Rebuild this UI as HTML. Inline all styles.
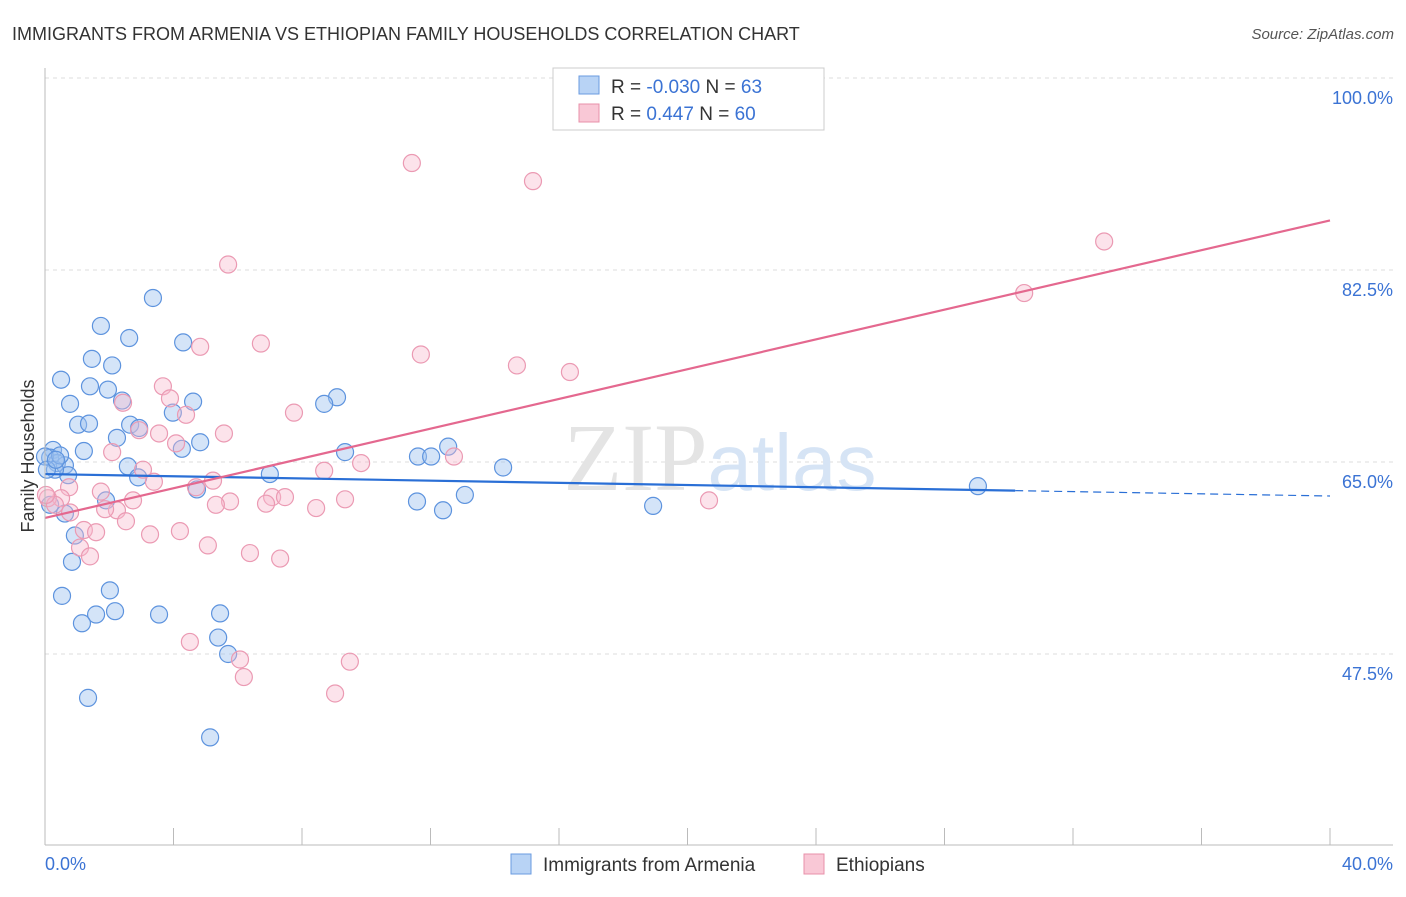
<!DOCTYPE html>
<html><head><meta charset="utf-8"><style>
body{margin:0;background:#fff;font-family:"Liberation Sans",sans-serif}
</style></head><body>
<svg width="1406" height="892" viewBox="0 0 1406 892" xmlns="http://www.w3.org/2000/svg" font-family="Liberation Sans, sans-serif">
<text x="12" y="40" font-size="18" fill="#333">IMMIGRANTS FROM ARMENIA VS ETHIOPIAN FAMILY HOUSEHOLDS CORRELATION CHART</text>
<text x="1394" y="39" font-size="15" fill="#555" font-style="italic" text-anchor="end">Source: ZipAtlas.com</text>
<g id="grid"></g>
<text x="720" y="490" font-size="96" fill="#e4e4e4" text-anchor="middle" font-family="Liberation Serif, serif">ZIP<tspan fill="#d6e4f5" font-family="Liberation Sans, sans-serif" font-size="80">atlas</tspan></text>
<g id="pts"></g>
<g id="trend"></g>
<line x1="45" y1="68" x2="45" y2="845" stroke="#bbb"/>
<line x1="45" y1="845" x2="1393" y2="845" stroke="#bbb"/>
<g id="xt"></g>
<text x="45" y="870" font-size="18" fill="#3b73d4">0.0%</text>
<text x="1393" y="870" font-size="18" fill="#3b73d4" text-anchor="end">40.0%</text>
<text x="34" y="456" font-size="18" fill="#333" text-anchor="middle" transform="rotate(-90 34 456)">Family Households</text>
<g>
<rect x="553" y="68" width="271" height="62" fill="#fff" stroke="#ccc"/>
<rect x="579" y="76" width="20" height="18" fill="#b8d3f5" stroke="#6a9be0"/>
<rect x="579" y="104" width="20" height="18" fill="#f9c8d6" stroke="#e890aa"/>
<text x="611" y="93" font-size="19" fill="#333">R = <tspan fill="#3b73d4">-0.030</tspan>   N = <tspan fill="#3b73d4">63</tspan></text>
<text x="611" y="120" font-size="19" fill="#333">R = <tspan fill="#3b73d4">  0.447</tspan>   N = <tspan fill="#3b73d4">60</tspan></text>
</g>
<g>
<rect x="511" y="854" width="20" height="20" fill="#b8d3f5" stroke="#6a9be0"/>
<text x="543" y="871" font-size="19" fill="#333">Immigrants from Armenia</text>
<rect x="804" y="854" width="20" height="20" fill="#f9c8d6" stroke="#e890aa"/>
<text x="836" y="871" font-size="19" fill="#333">Ethiopians</text>
</g>
</svg>
<script>
const yTicks=[100,82.5,65,47.5];
const yTickLabels=["100.0%","82.5%","65.0%","47.5%"];
const blueX=[3.36,1.74,2.62,4.30,1.46,2.09,0.50,1.40,1.96,0.78,4.61,2.40,9.09,8.69,3.98,1.03,1.37,2.65,2.93,2.24,4.83,4.26,0.25,1.21,9.34,12.55,11.61,12.02,0.16,0.37,0.62,2.58,14.26,7.00,2.90,0.72,0.31,4.73,13.07,1.90,11.58,12.39,18.93,29.04,0.62,0.93,0.84,2.02,0.53,1.59,2.18,3.55,5.45,1.15,5.39,5.70,1.34,5.14,0.16,0,0.47,0.06,0.34];
const blueY=[79.95,77.4,76.3,75.9,74.4,73.8,72.5,71.9,71.6,70.3,70.5,70.6,70.9,70.3,69.5,68.4,68.5,68.4,68.1,67.2,66.8,66.2,66.1,66.0,65.9,66.4,65.5,65.5,65.4,64.9,64.7,64.6,64.5,63.9,63.6,63.8,64.3,62.5,62.0,61.5,61.4,60.6,61.0,62.8,60.3,58.3,55.9,53.3,52.8,51.1,51.4,51.1,51.2,50.3,49.0,47.5,43.5,39.9,61.1,65.5,65.6,64.3,65.2];
const pinkX=[11.42,15.19,32.97,5.70,30.48,4.83,6.72,11.70,14.69,16.34,3.67,3.89,2.43,4.39,7.75,2.93,3.55,5.57,4.08,2.09,12.73,9.84,3.05,8.69,5.23,3.39,4.70,1.74,0.75,0.50,0.09,7.07,7.47,5.76,5.32,9.34,2.24,1.87,2.74,6.88,8.44,20.67,2.52,1.21,1.59,4.20,3.27,1.09,5.07,1.40,6.38,7.32,4.51,6.07,9.49,6.19,9.03,0.78,0.31,0.03];
const pinkY=[92.25,90.6,85.1,83.0,80.4,75.5,75.8,74.8,73.8,73.2,71.9,70.8,70.4,69.3,69.5,67.9,67.6,67.6,66.7,65.9,65.5,64.9,64.3,64.2,63.3,63.2,62.7,62.3,62.7,61.7,61.7,61.8,61.8,61.4,61.1,61.6,60.6,60.7,61.5,61.2,60.8,61.5,59.6,58.8,58.6,58.7,58.4,57.2,57.4,56.4,56.7,56.2,48.6,47.0,46.8,45.4,43.9,60.4,61.1,62.0];
const blueTrend=[63.9,-0.05]; // intercept, slope
const pinkTrend=[59.9,0.678];
const NS="http://www.w3.org/2000/svg";
const sx=v=>45+v/40*1285, sy=v=>78+(100-v)/17.5*192;
function mk(t,a,p){const e=document.createElementNS(NS,t);for(const k in a)e.setAttribute(k,a[k]);p.appendChild(e);return e;}
const grid=document.getElementById('grid');
yTicks.forEach((t,i)=>{
 const l=mk('line',{x1:45,x2:1393,y1:sy(t),y2:sy(t),stroke:'#ddd','stroke-dasharray':'4,4'},grid);
 
 
 const tx=mk('text',{x:1393,y:sy(t)+26,'font-size':18,fill:'#3b73d4','text-anchor':'end'},grid);
 tx.textContent=yTickLabels[i];
 
 
});
const xt=document.getElementById('xt');
for(let i=0;i<=10;i++){const l=mk('line',{x1:sx(i*4),x2:sx(i*4),y1:828,y2:845,stroke:'#bbb'},xt);
 
 }
const pts=document.getElementById('pts');
blueX.forEach((x,i)=>{const c=mk('circle',{cx:sx(x),cy:sy(blueY[i]),r:8.5,fill:'rgba(160,195,240,0.45)',stroke:'#5d93de','stroke-width':1.2},pts);
 
 });
pinkX.forEach((x,i)=>{const c=mk('circle',{cx:sx(x),cy:sy(pinkY[i]),r:8.5,fill:'rgba(248,185,205,0.4)',stroke:'#eb9ab3','stroke-width':1.2},pts);
 
 });
const tr=document.getElementById('trend');
const bf=x=>blueTrend[0]+blueTrend[1]*x, pf=x=>pinkTrend[0]+pinkTrend[1]*x;
let l=mk('line',{x1:sx(0),y1:sy(bf(0)),x2:sx(30.2),y2:sy(bf(30.2)),stroke:'#2a6fd6','stroke-width':2.2},tr);


l=mk('line',{x1:sx(30.2),y1:sy(bf(30.2)),x2:sx(40),y2:sy(bf(40)),stroke:'#2a6fd6','stroke-width':1.2,'stroke-dasharray':'8,5'},tr);


l=mk('line',{x1:sx(0),y1:sy(pf(0)),x2:sx(40),y2:sy(pf(40)),stroke:'#e4688f','stroke-width':2.2},tr);


</script>
</body></html>
